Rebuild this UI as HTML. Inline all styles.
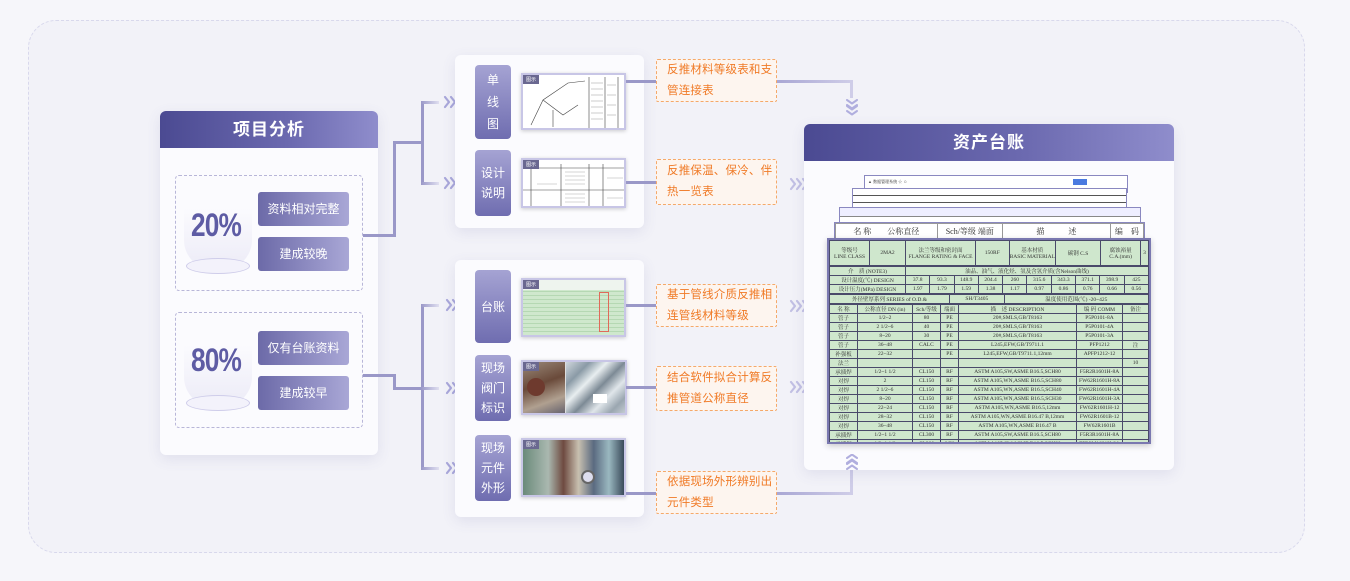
<!DOCTYPE html>
<html><head><meta charset="utf-8"><style>
*{margin:0;padding:0;box-sizing:border-box}
body{width:1350px;height:581px;background:#f6f6fa;position:relative;overflow:hidden;font-family:"Liberation Sans","Noto Sans CJK SC",sans-serif}
.abs{position:absolute}
.outer{left:28px;top:20px;width:1277px;height:533px;border:1.5px dashed #d8d8ec;border-radius:28px;background:#f2f2f8}
.card{background:#fbfbfe;border-radius:6px;box-shadow:0 4px 14px rgba(90,90,160,.12)}
.hdr{background:linear-gradient(90deg,#4b4a92 0%,#6c6ab0 60%,#8f8dcc 100%);color:#fff;font-size:17px;font-weight:bold;text-align:center;border-radius:6px 6px 0 0;letter-spacing:1px;overflow:hidden}
.dash{border:1px dashed #b8b6d8;border-radius:4px}
.btn{background:linear-gradient(90deg,#6c6aa8,#a9a7d6);color:#fff;font-size:12px;text-align:center;border-radius:3px;line-height:34px}
.pct{font-family:"Liberation Sans Narrow","Liberation Sans",sans-serif;font-weight:bold;font-size:32px;color:#5e5ca4;transform:scaleX(.82);transform-origin:left;letter-spacing:-1px}
.pill{background:linear-gradient(180deg,#a5a3d3,#6f6db0);color:#fff;font-size:12px;text-align:center;border-radius:4px;display:flex;align-items:center;justify-content:center;line-height:20px}
.img{border:2px solid #c8c6e6;box-shadow:0 1px 4px rgba(0,0,0,.2);overflow:hidden}
.tag{position:absolute;left:0;top:0;background:#6a6890;color:#fff;font-size:5px;padding:1px 3px}
.obox{border:1px dashed #f5a96a;background:#fdf5ef;color:#f07a26;font-size:11.5px;line-height:21px;padding:0 0 0 10px;letter-spacing:.2px;display:flex;align-items:center;border-radius:2px}
.ln{background:#9a98c8}
table{border-collapse:collapse;font-family:"Liberation Serif","Noto Serif CJK SC",serif;color:#333}
td{border:1px solid #4a4a6a;font-size:5.5px;text-align:center;padding:0;white-space:nowrap;overflow:hidden}
.g td{background:#cfe7cd}
</style></head><body>
<svg width="0" height="0" style="position:absolute"><defs>
<g id="ch"><path d="M2 3 L6 8 L2 13 M8 3 L12 8 L8 13 M14 3 L18 8 L14 13" fill="none" stroke-width="2.2" stroke-linecap="round" stroke-linejoin="round"/></g>
<g id="cv"><path d="M3 1 L8 4.5 L13 1 M3 6 L8 9.5 L13 6" fill="none" stroke-width="2" stroke-linecap="round" stroke-linejoin="round"/></g>
</defs></svg>
<div class="abs outer"></div>

<!-- left card -->
<div class="abs card" style="left:160px;top:111px;width:218px;height:344px"></div>
<div class="abs hdr" style="left:160px;top:111px;width:218px;height:37px;line-height:37px">项目分析</div>
<div class="abs dash" style="left:175px;top:175px;width:188px;height:116px"></div>
<div class="abs dash" style="left:175px;top:312px;width:188px;height:116px"></div>
<div class="abs" style="left:184px;top:208px;width:68px;height:62px;background:linear-gradient(180deg,rgba(255,255,255,0),#ecebf7);border-radius:0 0 30px 30px"></div>
<div class="abs" style="left:186px;top:258px;width:64px;height:16px;border:1.5px solid #cfcdea;border-radius:50%;background:#f3f2fb"></div>
<div class="abs" style="left:184px;top:345px;width:68px;height:62px;background:linear-gradient(180deg,rgba(255,255,255,0),#ecebf7);border-radius:0 0 30px 30px"></div>
<div class="abs" style="left:186px;top:395px;width:64px;height:16px;border:1.5px solid #cfcdea;border-radius:50%;background:#f3f2fb"></div>
<div class="abs pct" style="left:191px;top:207px">20%</div>
<div class="abs pct" style="left:191px;top:342px">80%</div>
<div class="abs btn" style="left:258px;top:192px;width:91px;height:34px">资料相对完整</div>
<div class="abs btn" style="left:258px;top:237px;width:91px;height:34px">建成较晚</div>
<div class="abs btn" style="left:258px;top:331px;width:91px;height:34px">仅有台账资料</div>
<div class="abs btn" style="left:258px;top:376px;width:91px;height:34px">建成较早</div>

<!-- connectors left -->
<div class="abs ln" style="left:363px;top:234px;width:33px;height:3px"></div>
<div class="abs ln" style="left:393px;top:141px;width:3px;height:96px"></div>
<div class="abs ln" style="left:393px;top:141px;width:30px;height:3px"></div>
<div class="abs ln" style="left:421px;top:101px;width:3px;height:83px"></div>
<div class="abs ln" style="left:421px;top:101px;width:18px;height:3px;background:linear-gradient(90deg,#9a98c8,#e0dff0)"></div>
<div class="abs ln" style="left:421px;top:182px;width:18px;height:3px;background:linear-gradient(90deg,#9a98c8,#e0dff0)"></div>
<div class="abs ln" style="left:363px;top:374px;width:33px;height:3px"></div>
<div class="abs ln" style="left:393px;top:374px;width:3px;height:16px"></div>
<div class="abs ln" style="left:393px;top:387px;width:30px;height:3px"></div>
<div class="abs ln" style="left:421px;top:304px;width:3px;height:166px"></div>
<div class="abs ln" style="left:421px;top:304px;width:18px;height:3px;background:linear-gradient(90deg,#9a98c8,#e0dff0)"></div>
<div class="abs ln" style="left:421px;top:387px;width:18px;height:3px;background:linear-gradient(90deg,#9a98c8,#e0dff0)"></div>
<div class="abs ln" style="left:421px;top:467px;width:18px;height:3px;background:linear-gradient(90deg,#9a98c8,#e0dff0)"></div>
<svg class="abs" style="left:443px;top:94px" width="20" height="16" stroke="#a9a7da"><use href="#ch"/></svg>
<svg class="abs" style="left:443px;top:175px" width="20" height="16" stroke="#a9a7da"><use href="#ch"/></svg>
<svg class="abs" style="left:445px;top:297px" width="20" height="16" stroke="#a9a7da"><use href="#ch"/></svg>
<svg class="abs" style="left:445px;top:380px" width="20" height="16" stroke="#a9a7da"><use href="#ch"/></svg>
<svg class="abs" style="left:445px;top:460px" width="20" height="16" stroke="#a9a7da"><use href="#ch"/></svg>

<!-- middle cards -->
<div class="abs card" style="left:455px;top:55px;width:189px;height:173px"></div>
<div class="abs card" style="left:455px;top:260px;width:189px;height:257px"></div>
<div class="abs pill" style="left:475px;top:65px;width:36px;height:74px;line-height:22px">单<br>线<br>图</div>
<div class="abs pill" style="left:475px;top:150px;width:36px;height:66px">设计<br>说明</div>
<div class="abs pill" style="left:475px;top:270px;width:36px;height:73px">台账</div>
<div class="abs pill" style="left:475px;top:355px;width:36px;height:66px">现场<br>阀门<br>标识</div>
<div class="abs pill" style="left:475px;top:435px;width:36px;height:66px">现场<br>元件<br>外形</div>

<div class="abs img" style="left:521px;top:73px;width:105px;height:57px;background:#fff">
<svg width="105" height="57"><g stroke="#444" stroke-width=".6" fill="none"><path d="M8 50 L20 25 L45 8 L62 6 M20 25 L40 40 L55 30 M30 35 L30 52"/><path d="M66 2 V55 M82 2 V55 M95 2 V55"/></g><g stroke="#999" stroke-width=".5"><path d="M68 8H80M68 14H80M68 20H80M68 26H80M68 32H80M68 38H80M68 44H80M84 10H93M84 20H93M84 30H93M84 40H93"/></g></svg><span class="tag">图示</span></div>
<div class="abs img" style="left:521px;top:158px;width:105px;height:50px;background:#fff">
<svg width="105" height="50"><g stroke="#444" stroke-width=".6" fill="none"><path d="M0 8H105M8 0V50M38 4V50M66 4V50M80 4V50M0 30H105"/></g><g stroke="#aaa" stroke-width=".5"><path d="M42 12H62M42 16H62M42 20H62M42 24H62M42 34H62M42 38H62M42 42H62M14 24H34M84 18H100M84 38H100"/></g></svg><span class="tag">图示</span></div>
<div class="abs img" style="left:521px;top:278px;width:105px;height:59px;background:repeating-linear-gradient(180deg,#cfe8cd 0 3px,#b5d8b3 3px 4px)"><div style="position:absolute;left:0;top:0;width:105px;height:10px;background:#eef4ee"></div><div style="position:absolute;left:76px;top:12px;width:10px;height:40px;border:1px solid #e06a5a"></div><span class="tag">图示</span></div>
<div class="abs img" style="left:521px;top:360px;width:106px;height:55px;background:#ddd">
<div style="position:absolute;left:0;top:0;width:42px;height:55px;background:linear-gradient(160deg,#9a8a7a,#6a4a3a 40%,#b0a090 70%,#556)"></div>
<div style="position:absolute;left:4px;top:16px;width:18px;height:18px;border-radius:50%;background:#6e3a2e"></div>
<div style="position:absolute;left:43px;top:0;width:63px;height:55px;background:linear-gradient(135deg,#cfd6dc 0,#8a9aa6 20%,#e8eef0 35%,#7d8a95 50%,#e0e6ea 65%,#9aa6b0 80%,#d8dee2)"></div>
<div style="position:absolute;left:70px;top:32px;width:14px;height:9px;background:#fff"></div><span class="tag">图示</span></div>
<div class="abs img" style="left:521px;top:438px;width:105px;height:59px;background:linear-gradient(90deg,#6a8a7a 0,#aab8b0 25%,#6e4a40 40%,#c8c0b0 55%,#5a6a80 70%,#9ab8c0 85%,#3a4a5a)">
<div style="position:absolute;left:58px;top:30px;width:14px;height:14px;border-radius:50%;background:#dde;border:2px solid #666"></div><span class="tag">图示</span></div>

<!-- connectors middle -->
<div class="abs ln" style="left:626px;top:80px;width:30px;height:3px"></div>
<div class="abs ln" style="left:626px;top:181px;width:30px;height:3px"></div>
<div class="abs ln" style="left:626px;top:304px;width:30px;height:3px"></div>
<div class="abs ln" style="left:626px;top:386px;width:30px;height:3px"></div>
<div class="abs ln" style="left:626px;top:492px;width:30px;height:3px"></div>

<div class="abs obox" style="left:656px;top:59px;width:121px;height:43px">反推材料等级表和支管连接表</div>
<div class="abs obox" style="left:656px;top:159px;width:121px;height:46px">反推保温、保冷、伴热一览表</div>
<div class="abs obox" style="left:656px;top:284px;width:121px;height:43px">基于管线介质反推相连管线材料等级</div>
<div class="abs obox" style="left:656px;top:366px;width:121px;height:45px">结合软件拟合计算反推管道公称直径</div>
<div class="abs obox" style="left:656px;top:471px;width:121px;height:43px">依据现场外形辨别出元件类型</div>

<div class="abs ln" style="left:777px;top:80px;width:75px;height:3px;background:linear-gradient(90deg,#a9a7d4,#cfcde8)"></div>
<div class="abs ln" style="left:850px;top:80px;width:3px;height:18px;background:#cfcde8"></div>
<svg class="abs" style="left:844px;top:99px" width="16" height="20" stroke="#b0aede"><use href="#cv"/><use href="#cv" y="6"/></svg>
<div class="abs ln" style="left:777px;top:492px;width:75px;height:3px;background:linear-gradient(90deg,#a9a7d4,#cfcde8)"></div>
<div class="abs ln" style="left:850px;top:470px;width:3px;height:25px;background:#cfcde8"></div>
<svg class="abs" style="left:789px;top:176px" width="20" height="16" stroke="#c2c0e4"><use href="#ch"/></svg>
<svg class="abs" style="left:789px;top:298px" width="20" height="16" stroke="#c2c0e4"><use href="#ch"/></svg>
<svg class="abs" style="left:789px;top:379px" width="20" height="16" stroke="#c2c0e4"><use href="#ch"/></svg>

<!-- right card -->
<div class="abs card" style="left:804px;top:124px;width:370px;height:346px"></div>
<div class="abs hdr" style="left:804px;top:124px;width:370px;height:37px;line-height:37px">资产台账</div>
<svg class="abs" style="left:844px;top:454px" width="16" height="18" stroke="#b0aede"><g transform="translate(0,16) scale(1,-1)"><use href="#cv"/><use href="#cv" y="6"/></g></svg>

<div class="abs" style="left:864px;top:175px;width:264px;height:18px;background:#fff;border:1px solid #8a88c0;font-size:4px;color:#555;padding:3px">▲ 数据管理系统 ☆ ☺<span style="position:absolute;right:40px;top:3px;width:14px;height:6px;background:#4a7ae0"></span></div>
<div class="abs" style="left:852px;top:188px;width:275px;height:20px;background:#fff;border:1px solid #8a88c0;background-image:repeating-linear-gradient(180deg,transparent 0 6px,#555 6px 7px)"></div>
<div class="abs" style="left:839px;top:207px;width:302px;height:17px;background:#fff;border:1px solid #8a88c0;background-image:linear-gradient(180deg,#eef 0 8px,#888 8px 9px,transparent 9px)"></div>
<div class="abs" style="left:834px;top:222px;width:311px;height:18px;background:#fff;border:1px solid #8a88c0">
<table style="width:100%;height:100%"><tr><td style="width:33%;font-size:8px;border-color:#999">名 称　　公称直径</td><td style="font-size:8px;border-color:#999">Sch/等级 端面</td><td style="width:35%;font-size:8px;border-color:#999">描　　　述</td><td style="font-size:8px;border-color:#999">编　码</td></tr></table></div>

<div class="abs" style="left:827px;top:238px;width:324px;height:206px;border:2px solid #7a78b0;box-shadow:0 2px 6px rgba(0,0,0,.2);background:#cfe7cd;overflow:hidden">
<table class="g" style="width:100%">
<tr style="height:25px"><td style="width:40px">等级号<br>LINE CLASS</td><td style="width:36px">2MA2</td><td style="width:70px">法兰等级和密封面<br>FLANGE RATING &amp; FACE</td><td>150RF</td><td style="width:45px">基本材质<br>BASIC MATERIAL</td><td>碳钢 C.S</td><td style="width:40px">腐蚀裕量<br>C.A.(mm)</td><td>3</td></tr>
</table>
<table class="g" style="width:100%;table-layout:fixed">
<tr style="height:7px"><td style="width:76px">介　质 (NOTE3)</td><td colspan="10">油品、油气、液化烃、氢及含氢介质(含Nelson曲线)</td></tr>
<tr style="height:7px"><td>设计温度(℃) DESIGN</td><td>37.8</td><td>93.3</td><td>148.9</td><td>204.4</td><td>260</td><td>315.6</td><td>343.3</td><td>371.1</td><td>398.9</td><td>425</td></tr>
<tr style="height:7px"><td>设计压力(MPa) DESIGN</td><td>1.97</td><td>1.79</td><td>1.59</td><td>1.38</td><td>1.17</td><td>0.97</td><td>0.86</td><td>0.76</td><td>0.66</td><td>0.56</td></tr>
</table>
<table class="g" style="width:100%">
<tr style="height:7px"><td style="width:120px">外径壁厚系列 SERIES of O.D.&amp;</td><td>SH/T3405</td><td>温度使用范围(℃) -20~425</td></tr>
</table>
<table class="g" style="width:100%">
<tr style="height:7px"><td style="width:28px">名 称</td><td style="width:55px">公称直径 DN (in)</td><td style="width:28px">Sch/等级</td><td style="width:18px">端面</td><td>描　述 DESCRIPTION</td><td style="width:46px">编 码 COMM</td><td style="width:26px">备注</td></tr>
<tr style="height:7.2px"><td>管子</td><td>1/2~2</td><td>80</td><td>PE</td><td>20#,SMLS,GB/T8163</td><td>P5P0101-8A</td><td></td></tr>
<tr style="height:7.2px"><td>管子</td><td>2 1/2~6</td><td>40</td><td>PE</td><td>20#,SMLS,GB/T8163</td><td>P5P0101-4A</td><td></td></tr>
<tr style="height:7.2px"><td>管子</td><td>8~20</td><td>30</td><td>PE</td><td>20#,SMLS,GB/T8163</td><td>P5P0101-3A</td><td></td></tr>
<tr style="height:7.2px"><td>管子</td><td>36~48</td><td>CALC</td><td>PE</td><td>L245,EFW,GB/T9711.1</td><td>PFP1212</td><td>注</td></tr>
<tr style="height:7.2px"><td>补强板</td><td>22~32</td><td></td><td>PE</td><td>L245,EFW,GB/T9711.1,12mm</td><td>APFP1212-12</td><td></td></tr>
<tr style="height:7.2px"><td>法兰</td><td></td><td></td><td></td><td></td><td></td><td>10</td></tr>
<tr style="height:7.2px"><td>承插焊</td><td>1/2~1 1/2</td><td>CL150</td><td>RF</td><td>ASTM A105,SW,ASME B16.5,SCH80</td><td>F5R2R1601H-8A</td><td></td></tr>
<tr style="height:7.2px"><td>对焊</td><td>2</td><td>CL150</td><td>RF</td><td>ASTM A105,WN,ASME B16.5,SCH80</td><td>FW62R1601H-8A</td><td></td></tr>
<tr style="height:7.2px"><td>对焊</td><td>2 1/2~6</td><td>CL150</td><td>RF</td><td>ASTM A105,WN,ASME B16.5,SCH40</td><td>FW62R1601H-4A</td><td></td></tr>
<tr style="height:7.2px"><td>对焊</td><td>8~20</td><td>CL150</td><td>RF</td><td>ASTM A105,WN,ASME B16.5,SCH30</td><td>FW62R1601H-3A</td><td></td></tr>
<tr style="height:7.2px"><td>对焊</td><td>22~24</td><td>CL150</td><td>RF</td><td>ASTM A105,WN,ASME B16.5,12mm</td><td>FW62R1601H-12</td><td></td></tr>
<tr style="height:7.2px"><td>对焊</td><td>28~32</td><td>CL150</td><td>RF</td><td>ASTM A105,WN,ASME B16.47 B,12mm</td><td>FW62R1601B-12</td><td></td></tr>
<tr style="height:7.2px"><td>对焊</td><td>36~48</td><td>CL150</td><td>RF</td><td>ASTM A105,WN,ASME B16.47 B</td><td>FW62R1601B</td><td></td></tr>
<tr style="height:7.2px"><td>承插焊</td><td>1/2~1 1/2</td><td>CL300</td><td>RF</td><td>ASTM A105,SW,ASME B16.5,SCH80</td><td>F5R3R1601H-8A</td><td></td></tr>
<tr style="height:7.2px"><td>承插焊</td><td>1/2~1 1/2</td><td>CL300</td><td>MH</td><td>ASTM A105,SW,ASME B16.5,SCH80</td><td>F5R3M1601H-8A</td><td></td></tr>
<tr style="height:7.2px"><td>承插焊</td><td>1/2~1 1/2</td><td>CL300</td><td>FE</td><td>ASTM A105,SW,ASME B16.5,SCH80</td><td>F5R3F1601H-8A</td><td></td></tr>
<tr style="height:7.2px"><td>对焊</td><td>2</td><td>CL300</td><td>RF</td><td>ASTM A105,WN,ASME B16.5,SCH80</td><td>FW63R1601H-8A</td><td></td></tr>
<tr style="height:7.2px"><td>对焊</td><td>2</td><td>CL300</td><td>MH</td><td>ASTM A105,WN,ASME B16.5,SCH80</td><td>FW63M1601H-8A</td><td></td></tr>
<tr style="height:7.2px"><td>对焊</td><td>2</td><td>CL300</td><td>FE</td><td>ASTM A105,WN,ASME B16.5,SCH80</td><td>FW63F1601H-8A</td><td></td></tr>
<tr style="height:7.2px"><td>对焊</td><td>2 1/2~6</td><td>CL300</td><td>RF</td><td>ASTM A105,WN,ASME B16.5,SCH40</td><td>FW63R1601H-4A</td><td></td></tr>
</table>
</div>
</body></html>
